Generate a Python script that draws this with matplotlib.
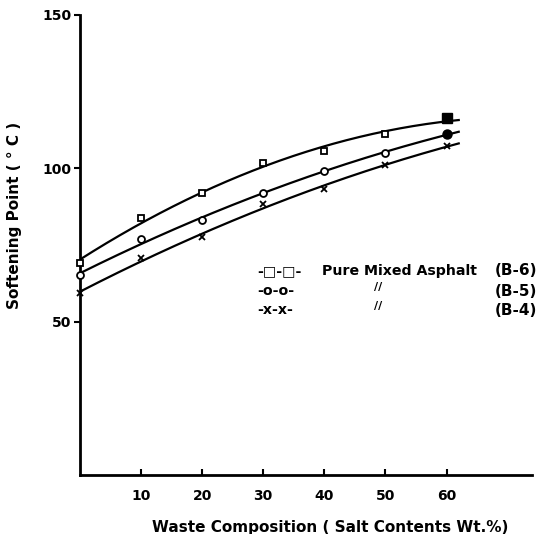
import numpy as np
import matplotlib
matplotlib.use("Agg")
import matplotlib.pyplot as plt

# salt content (wt.%) and softening points
salt = [0, 10, 20, 30, 40, 50, 60]
b6 = [69.2, 83.7, 92.0, 101.6, 105.8, 111.2, 116.3]
b5 = [65.1, 76.9, 83.3, 92.0, 99.0, 105.1, 111.2]
b4 = [59.3, 70.8, 77.6, 88.5, 93.3, 101.0, 107.4]

xticks = [10, 20, 30, 40, 50, 60]
yticks = [50, 100, 150]

fig = plt.figure(figsize=(5.44, 5.34), dpi=100)
ax = fig.add_axes([0.147, 0.110, 0.831, 0.862])

xx = np.linspace(0, 62, 200)
for ys, mk, fill in [(b6, 's', 'white'), (b5, 'o', 'white'), (b4, 'x', 'black')]:
    # smooth hand-drawn style curve through the points
    c = np.polyfit(salt, ys, 2)
    ax.plot(xx, np.polyval(c, xx), color='black', lw=1.6)
    ax.plot(salt, ys, linestyle='none', marker=mk, ms=5, mew=1.3,
            mfc=fill, mec='black', color='black', clip_on=False, zorder=3)

# last points are blacked in on the scan
ax.plot([60], [b6[-1]], 's', ms=6.5, color='black', zorder=4)
ax.plot([60], [b5[-1]], 'o', ms=6.5, color='black', zorder=4)

ax.set_xlim(0, 74)
ax.set_ylim(0, 150)
ax.spines['top'].set_visible(False)
ax.spines['right'].set_visible(False)
ax.spines['left'].set_linewidth(2)
ax.spines['bottom'].set_linewidth(2)

ax.set_xticks(xticks)
ax.set_xticklabels([str(t) for t in xticks], fontweight='bold', fontsize=10)
ax.set_yticks(yticks)
ax.set_yticklabels([str(t) for t in yticks], fontweight='bold', fontsize=10)
ax.tick_params(axis='x', direction='in', length=4, width=1.5, pad=10)
ax.tick_params(axis='y', direction='out', length=4, width=1.5, pad=2)

ax.set_ylabel("Softening Point ( ° C )", fontsize=11, fontweight='bold')
ax.yaxis.set_label_coords(-0.128, 0.565)
ax.set_xlabel("Waste Composition ( Salt Contents Wt.%)", fontsize=11,
              fontweight='bold')
ax.xaxis.set_label_coords(0.553, -0.098)

# hand-lettered legend
tr = ax.transAxes
fs = 10.2
rows = [("-□-□-", "Pure Mixed Asphalt", "(B-6)"),
        ("-o-o-", "//", "(B-5)"),
        ("-x-x-", "//", "(B-4)")]
ys_leg = [0.444, 0.400, 0.359]
for (m, name, code), yl in zip(rows, ys_leg):
    ax.text(0.393, yl, m, transform=tr, fontsize=fs, fontweight='bold',
            va='center', ha='left')
    if name.startswith("Pure"):
        ax.text(0.535, yl, name, transform=tr, fontsize=fs, fontweight='bold',
                va='center', ha='left')
    else:
        ax.text(0.66, yl + 0.008, name, transform=tr, fontsize=8,
                fontweight='bold', va='center', ha='center')
    ax.text(1.012, yl, code, transform=tr, fontsize=11, fontweight='bold',
            va='center', ha='right', clip_on=False)

fig.savefig("out.png", dpi=100)
